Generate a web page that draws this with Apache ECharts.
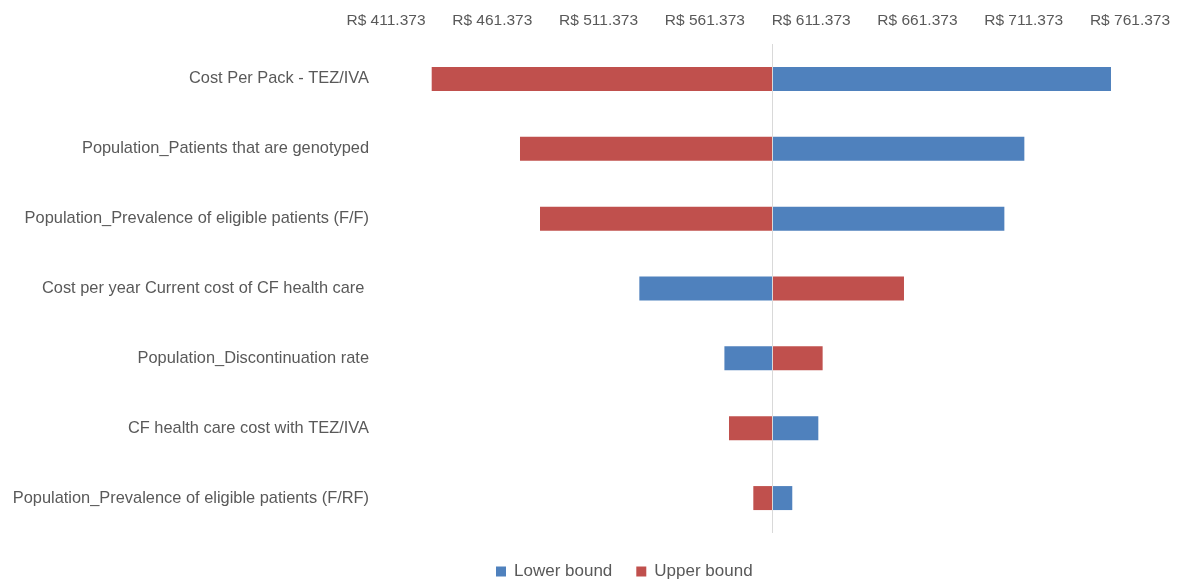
<!DOCTYPE html>
<html>
<head>
<meta charset="utf-8">
<script src="https://cdn.jsdelivr.net/npm/echarts@6/dist/echarts.min.js"></script>
<style>html,body{margin:0;padding:0;background:#fff;}#c{width:1178px;height:581px;}</style>
</head>
<body>
<div id="c"></div>
<script>
// Values in R$ thousands (Brazilian format: "." = thousands separator)
const categories = [
  'Cost Per Pack - TEZ/IVA',
  'Population_Patients that are genotyped',
  'Population_Prevalence of eligible patients (F/F)',
  'Cost per year Current cost of CF health care ',
  'Population_Discontinuation rate',
  'CF health care cost with TEZ/IVA',
  'Population_Prevalence of eligible patients (F/RF)'
];
const baseCase = 592.96;
const lowerBound = [752.43, 711.67, 702.27, 530.55, 570.57, 614.75, 602.50];
const upperBound = [432.87, 474.41, 483.82, 655.05, 616.78, 572.73, 584.17];
const tickLabels = ['R$ 411.373','R$ 461.373','R$ 511.373','R$ 561.373','R$ 611.373','R$ 661.373','R$ 711.373','R$ 761.373'];
const axisMin = 411.373, axisMax = 761.373, axisStep = 50;

const FONT = 'Liberation Sans';
const GREY = '#595959';
const chart = echarts.init(document.getElementById('c'));
chart.setOption({
  animation: false,
  textStyle: { fontFamily: FONT },
  grid: { left: 386, right: 48, top: 44, bottom: 48 },
  legend: {
    data: ['Lower bound', 'Upper bound'],
    left: 491, top: 558,
    icon: 'rect', itemWidth: 10, itemHeight: 10, itemGap: 24,
    textStyle: { fontSize: 17, color: GREY, fontFamily: FONT, padding: [0, 4, 0, 3] }
  },
  xAxis: {
    type: 'value', position: 'top',
    min: axisMin - baseCase, max: axisMax - baseCase, interval: axisStep,
    axisLine: { show: false }, axisTick: { show: false }, splitLine: { show: false },
    axisLabel: {
      color: GREY, fontSize: 15.5, margin: 15, fontFamily: FONT,
      formatter: function (v) {
        const idx = Math.round((v + baseCase - axisMin) / axisStep);
        return tickLabels[idx] || '';
      }
    }
  },
  yAxis: {
    type: 'category', inverse: true, data: categories,
    axisLine: { show: false }, axisTick: { show: false },
    axisLabel: { color: GREY, fontSize: 16.4, margin: 17, fontFamily: FONT }
  },
  series: [
    {
      name: 'Lower bound', type: 'bar', barWidth: 24, barGap: '-100%',
      itemStyle: { color: '#4F81BD' },
      data: lowerBound.map(v => v - baseCase),
      markLine: {
        silent: true, symbol: 'none', label: { show: false },
        lineStyle: { color: '#D9D9D9', type: 'solid', width: 1 },
        data: [{ xAxis: 0 }]
      }
    },
    {
      name: 'Upper bound', type: 'bar', barWidth: 24, barGap: '-100%',
      itemStyle: { color: '#C0504D' },
      data: upperBound.map(v => v - baseCase)
    }
  ]
});
</script>
</body>
</html>
